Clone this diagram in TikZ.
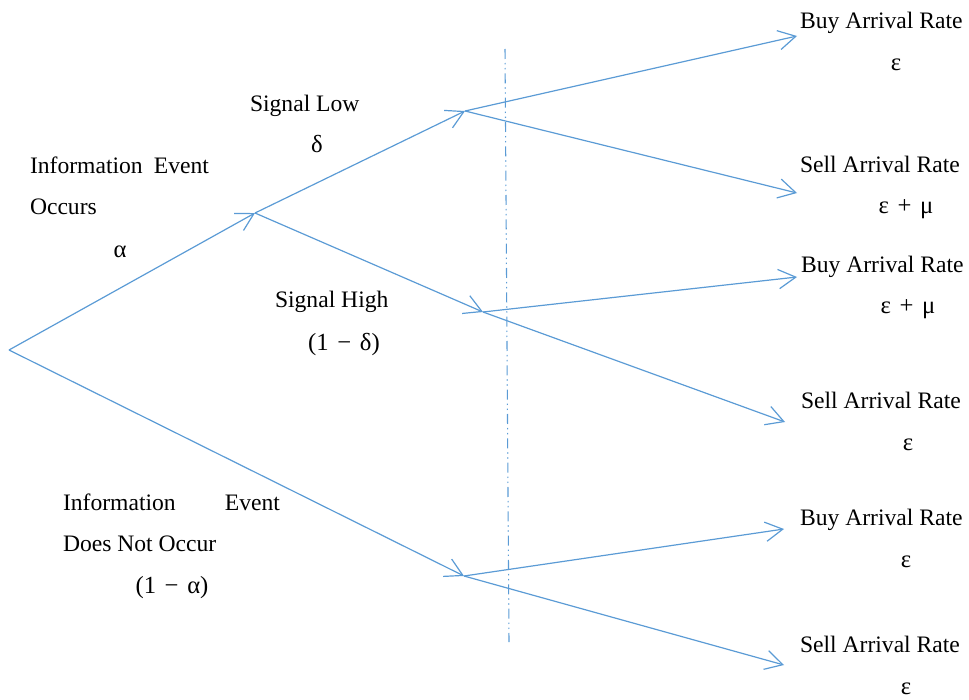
\documentclass[tikz,border=0pt]{standalone}
\usepackage{fontspec}
\setmainfont{Liberation Serif}
\usetikzlibrary{arrows.meta}
\definecolor{treeblue}{RGB}{91,155,213}
\newcommand{\opsp}{\hspace{6.5pt}}
\begin{document}
\begin{tikzpicture}[x=0.75pt, y=-0.75pt, font=\fontsize{17.7}{21}\selectfont]
        \tikzstyle{every node}=[inner sep=0pt, outer sep=0pt]
        \tikzstyle{branch}=[draw=treeblue, line width=0.9pt, -{Straight Barb[length=13pt, width=14.5pt]}]
        \tikzstyle{txt}=[anchor=base west]
        \tikzstyle{prob}=[anchor=base, font=\fontsize{18.5}{21}\selectfont]
        \useasboundingbox (0,0) rectangle (969,699);
        % tree points
        \coordinate (root) at (9,350);
        \coordinate (occ) at (255,213);
        \coordinate (noocc) at (464,576);
        \coordinate (low) at (465,111);
        \coordinate (high) at (483,312);
        \coordinate (lowbuy) at (797,36);
        \coordinate (lowsell) at (797,193);
        \coordinate (highbuy) at (797,277);
        \coordinate (highsell) at (785,422);
        \coordinate (nobuy) at (784,529);
        \coordinate (nosell) at (784,665);
        \coordinate (cuttop) at (505,49);
        \coordinate (cutbot) at (509,642);
        % branches
        \draw [branch] (root) -- (occ);
        \draw [branch] (root) -- (noocc);
        \draw [branch] (occ) -- (low);
        \draw [branch] (occ) -- (high);
        \draw [branch] (low) -- (lowbuy);
        \draw [branch] (low) -- (lowsell);
        \draw [branch] (high) -- (highbuy);
        \draw [branch] (high) -- (highsell);
        \draw [branch] (noocc) -- (nobuy);
        \draw [branch] (noocc) -- (nosell);
        \draw [treeblue, line width=0.8pt, dash pattern=on 7.5pt off 3pt on 1pt off 2.75pt on 1pt off 3pt] (cuttop) -- (cutbot);
        % event labels
        \node [txt] (occtxt) at (30,173) {\makebox[134.25pt][s]{Information\hfill Event}};
        \node [txt] (occtxt2) at (30,214) {Occurs};
        \node [prob] (alpha) at (120,257) {α};
        \node [txt] (lowtxt) at (250,111) {Signal Low};
        \node [prob] (delta) at (317,152) {δ};
        \node [txt] (hightxt) at (275,307) {Signal High};
        \node [prob] (ndelta) at (344,350) {(1\opsp−\opsp δ)};
        \node [txt] (noocctxt) at (63,510) {\makebox[162.75pt][s]{Information\hfill Event}};
        \node [txt] (noocctxt2) at (63,551) {Does Not Occur};
        \node [prob] (nalpha) at (172,593) {(1\opsp−\opsp α)};
        % arrival rates
        \node [txt] (r1) at (800,29) {Buy Arrival Rate};
        \node [prob] (p1) at (896,70) {ε};
        \node [txt] (r2) at (800,172) {Sell Arrival Rate};
        \node [prob] (p2) at (906,213) {ε\opsp+\opsp μ};
        \node [txt] (r3) at (801,272) {Buy Arrival Rate};
        \node [prob] (p3) at (908,313) {ε\opsp+\opsp μ};
        \node [txt] (r4) at (801,408) {Sell Arrival Rate};
        \node [prob] (p4) at (908,450) {ε};
        \node [txt] (r5) at (800,525) {Buy Arrival Rate};
        \node [prob] (p5) at (906,567) {ε};
        \node [txt] (r6) at (800,652) {Sell Arrival Rate};
        \node [prob] (p6) at (906,694) {ε};
\end{tikzpicture}
\end{document}
